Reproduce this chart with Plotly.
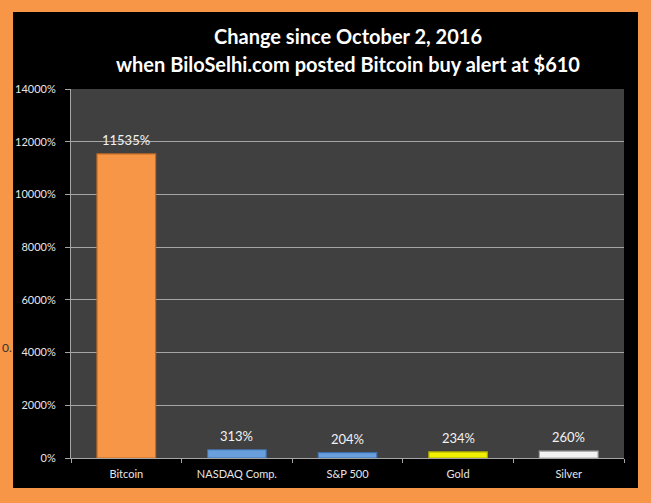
import plotly.graph_objects as go

assets = ['Bitcoin', 'NASDAQ Comp.', 'S&P 500', 'Gold', 'Silver']
change_pct = [11535, 313, 204, 234, 260]
bar_colors = ['#F79646', '#6A9FDE', '#6A9FDE', '#F0F000', '#F2F2F2']
edge_colors = ['#C46A22', '#3F6FAA', '#3F6FAA', '#A8A800', '#A6A6A6']
y_ticks = list(range(0, 14001, 2000))
y_tick_text = [f'{v}%' for v in y_ticks]

# plot area in pixels, used to convert pixel positions to paper coords
plot_l, plot_r, plot_t, plot_b = 71, 624, 89, 458

def px_x(p):
    return (p - plot_l) / (plot_r - plot_l)

def px_y(p):
    return (plot_b - p) / (plot_b - plot_t)

fig = go.Figure()
fig.add_trace(go.Bar(
    x=assets, y=change_pct,
    width=0.53,
    marker=dict(color=bar_colors, line=dict(color=edge_colors, width=1.2)),
    hoverinfo='skip',
))

# value labels above the bars
for a, v in zip(assets, change_pct):
    fig.add_annotation(x=a, y=v, text=f'{v}%', showarrow=False,
                       yanchor='bottom', yshift=4,
                       font=dict(size=13, color='#F2F2F2'))

fig.add_annotation(text='<b>Change since October 2, 2016</b>',
                   xref='paper', yref='paper', x=0.5, y=px_y(36),
                   xanchor='center', yanchor='middle', showarrow=False,
                   font=dict(size=20, color='white'))
fig.add_annotation(text='<b>when BiloSelhi.com posted Bitcoin buy alert at $610</b>',
                   xref='paper', yref='paper', x=0.5, y=px_y(64),
                   xanchor='center', yanchor='middle', showarrow=False,
                   font=dict(size=20, color='white'))
fig.add_annotation(text='0.', xref='paper', yref='paper', x=px_x(0), y=px_y(347),
                   xanchor='left', yanchor='middle', showarrow=False,
                   font=dict(size=12, color='#333333'))

fig.update_layout(
    width=651, height=503,
    margin=dict(l=plot_l, r=651 - plot_r, t=plot_t, b=503 - plot_b),
    paper_bgcolor='#F79646',
    plot_bgcolor='#404040',
    font=dict(family='Lato, Liberation Sans, sans-serif', color='#E6E6E6', size=11),
    showlegend=False,
    shapes=[
        # black frame inside the orange border
        dict(type='rect', xref='paper', yref='paper', layer='below',
             x0=px_x(13), x1=px_x(638), y0=px_y(488), y1=px_y(12),
             fillcolor='black', line=dict(width=0)),
        # grey plot area
        dict(type='rect', xref='paper', yref='paper', layer='below',
             x0=0, x1=1, y0=0, y1=1,
             fillcolor='#404040', line=dict(width=0)),
    ],
)

fig.update_yaxes(
    range=[0, 14000], tickvals=y_ticks, ticktext=y_tick_text,
    showgrid=True, gridcolor='#A6A6A6', gridwidth=1,
    showline=True, linecolor='#A6A6A6', linewidth=1,
    ticks='outside', ticklen=5, tickcolor='#A6A6A6',
    ticklabelstandoff=7, zeroline=False,
    tickfont=dict(size=11, color='#E6E6E6'),
)
fig.update_xaxes(
    showline=True, linecolor='#A6A6A6', linewidth=1,
    ticks='outside', ticklen=4, tickcolor='#A6A6A6', tickson='boundaries',
    showgrid=False, ticklabelstandoff=6,
    tickfont=dict(size=11, color='#E6E6E6'),
)

fig.write_html('out.html', config={'displayModeBar': False},
               post_script="document.body.style.margin='0';")
